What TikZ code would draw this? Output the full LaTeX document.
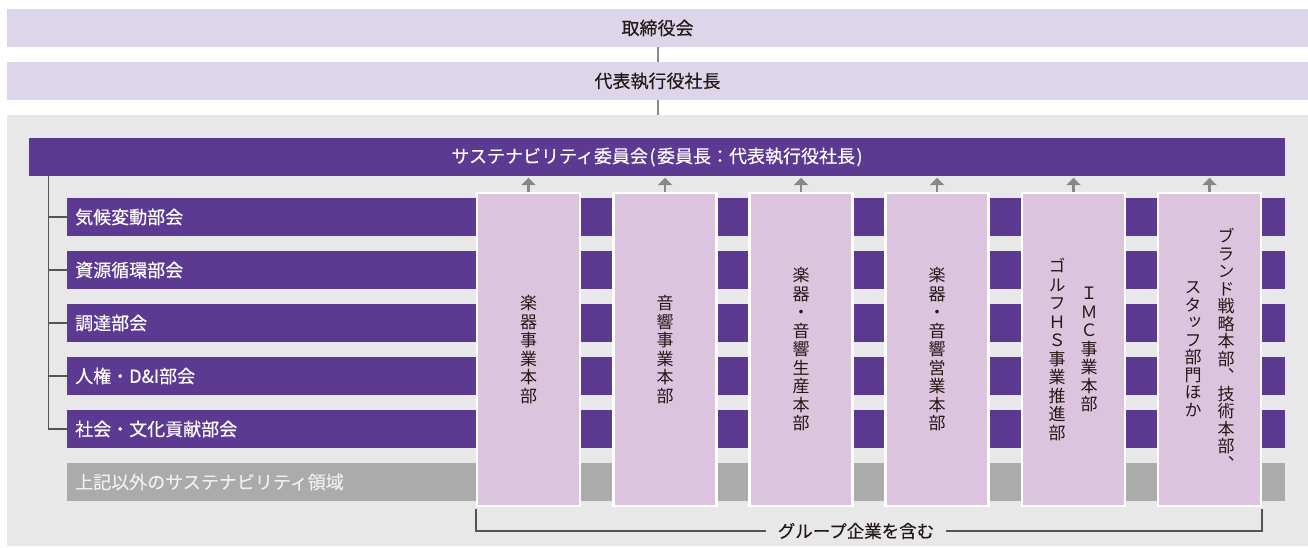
\documentclass[tikz,border=0pt]{standalone}
\usepackage{fontspec}
\setmainfont{Noto Sans CJK JP}[FakeBold=0.3]
\newfontfamily\vjp[RawFeature=+vert]{Noto Sans CJK JP}
\usetikzlibrary{arrows.meta}
\definecolor{lav}{HTML}{DDD6EA}
\definecolor{purp}{HTML}{5C3A92}
\definecolor{bgg}{HTML}{E8E8E8}
\definecolor{barg}{HTML}{AAABAA}
\definecolor{colf}{HTML}{DCC3DE}
\definecolor{arrg}{HTML}{888888}
\definecolor{treeg}{HTML}{555555}
\definecolor{txt}{HTML}{231815}
\begin{document}
\begin{tikzpicture}[x=1pt,y=-1pt,
  topbar/.style={fill=lav, minimum width=1301pt, minimum height=38pt, inner sep=0pt,
    font=\fontsize{18}{20}\selectfont, text=txt},
  commbar/.style={fill=purp, minimum width=1256pt, minimum height=38pt, inner sep=0pt,
    font=\fontsize{18}{20}\selectfont, text=white},
  subbar/.style={fill=purp, minimum width=1218pt, minimum height=38pt, inner sep=0pt, anchor=west},
  otherbar/.style={subbar, fill=barg},
  barlabel/.style={anchor=west, inner sep=0pt, font=\fontsize{18}{20}\selectfont, text=white},
  otherlabel/.style={barlabel, text=white!94!black},
  colbox/.style={fill=colf, draw=white, line width=2.5pt, minimum width=103pt, minimum height=312.5pt, inner sep=0pt},
  coltext/.style={align=center, inner sep=0pt, font=\fontsize{17}{18.5}\selectfont\vjp, text=txt},
  coltextb/.style={coltext, font=\fontsize{17}{17.5}\selectfont\vjp},
  conn/.style={draw=arrg, line width=2pt},
  uparrow/.style={draw=arrg, line width=2.5pt, -{Triangle[width=14pt,length=7.5pt]}, shorten >=1.5pt},
  treeline/.style={draw=treeg, line width=1.3pt},
  bracket/.style={draw=treeg, line width=1.2pt},
  grouplabel/.style={inner xsep=12pt, inner ysep=0pt, font=\fontsize{17.5}{20}\selectfont, text=txt}
]
\useasboundingbox (0,0) rectangle (1308,548);
% backgrounds
\fill[bgg] (7,115) rectangle (1308,546);
\node[topbar] (board) at (657.5,28) {取締役会};
\node[topbar] (ceo) at (657.5,81) {代表執行役社長};
\draw[conn] (board.south -| 657.5,0) -- (ceo.north -| 657.5,0);
\draw[conn] (ceo.south -| 657.5,0) -- (657.5,115);
% committee
\node[commbar] (comm) at (657,157) {サステナビリティ委員会\kern1.5pt(\kern1.5pt委員長：代表執行役社長\kern1.5pt)};
% subcommittee bars
\node[subbar] (b1) at (67,217) {};
\node[subbar] (b2) at (67,270) {};
\node[subbar] (b3) at (67,323) {};
\node[subbar] (b4) at (67,376) {};
\node[subbar] (b5) at (67,429) {};
\node[otherbar] (b6) at (67,482) {};
\node[barlabel] (l1) at ([xshift=8pt]b1.west) {気候変動部会};
\node[barlabel] (l2) at ([xshift=8pt]b2.west) {資源循環部会};
\node[barlabel] (l3) at ([xshift=8pt]b3.west) {調達部会};
\node[barlabel] (l4) at ([xshift=8pt]b4.west) {人権・D\&I部会};
\node[barlabel] (l5) at ([xshift=8pt]b5.west) {社会・文化貢献部会};
\node[otherlabel] (l6) at ([xshift=8pt]b6.west) {上記以外のサステナビリティ領域};
% tree
\coordinate (treetop) at (48.5,176);
\draw[treeline] (treetop) |- (b5.west);
\foreach \b in {b1,b2,b3,b4}{
  \draw[treeline] (\b.west -| treetop) -- (\b.west);
}
% columns
\foreach \i/\x in {1/528.5,2/665,3/801,4/937,5/1073.5,6/1209.5}{
  \coordinate (ct\i) at (\x,192);
  \draw[uparrow] (ct\i) -- (ct\i |- comm.south);
  \node[colbox] (c\i) at (\x,349.5) {};
}
\node[coltext] (t1) at (c1) {楽\\器\\事\\業\\本\\部};
\node[coltext] (t2) at (c2) {音\\響\\事\\業\\本\\部};
\node[coltext] (t3) at (c3) {楽\\器\\・\\音\\響\\生\\産\\本\\部};
\node[coltext] (t4) at (c4) {楽\\器\\・\\音\\響\\営\\業\\本\\部};
\node[coltext] (t5r) at ([xshift=15.5pt]c5.center) {Ｉ\\Ｍ\\Ｃ\\事\\業\\本\\部};
\node[coltext] (t5l) at ([xshift=-16.5pt]c5.center) {ゴ\\ル\\フ\\Ｈ\\Ｓ\\事\\業\\推\\進\\部};
\node[coltextb] (t6r) at ([xshift=16.5pt]c6.center) {ブ\\ラ\\ン\\ド\\戦\\略\\本\\部\\、\\技\\術\\本\\部\\、};
\node[coltextb] (t6l) at ([xshift=-16.5pt]c6.center) {ス\\タ\\ッ\\フ\\部\\門\\ほ\\か};
% bracket
\coordinate (brl) at (476,509);
\coordinate (brr) at (1262,509);
\node[grouplabel] (grp) at (856,531) {グループ企業を含む};
\draw[bracket] (brl) |- (grp.west);
\draw[bracket] (brr) |- (grp.east);
\end{tikzpicture}
\end{document}
